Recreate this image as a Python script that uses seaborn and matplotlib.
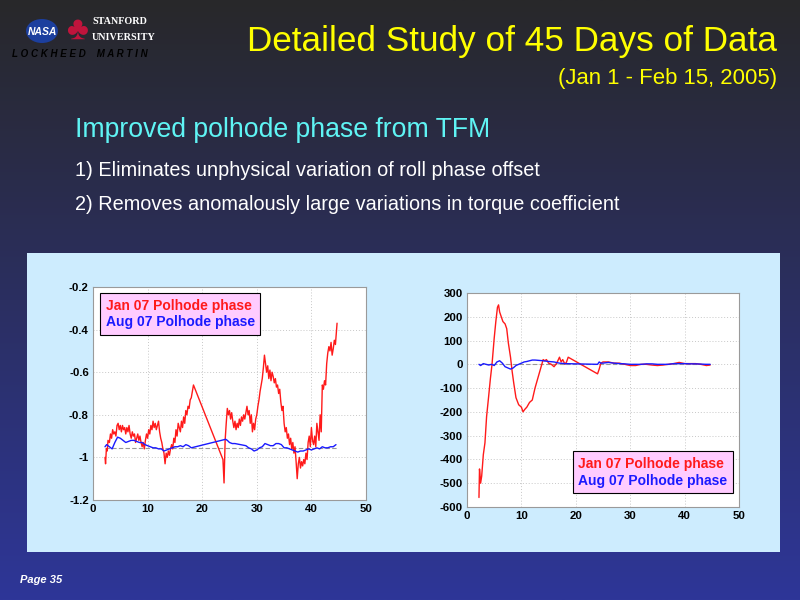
import numpy as np
import pandas as pd
import matplotlib
matplotlib.use("Agg")
import matplotlib.pyplot as plt
import seaborn as sns
from matplotlib.patches import Rectangle, Circle

# ---------------- data ----------------
left_jan_x = [2.2, 2.3, 2.45, 2.6, 2.75, 3.0, 3.2, 3.4, 3.6, 3.8, 4.0, 4.2, 4.4, 4.6, 4.8, 5.0, 5.2, 5.4, 5.6, 5.8,
              6.0, 6.2, 6.4, 6.6, 6.8, 7.0, 7.2, 7.4, 7.6, 7.8, 8.0, 8.2, 8.4, 8.6, 8.8, 9.0, 9.2, 9.4, 9.6, 9.8,
              10.0, 10.2, 10.4, 10.6, 10.8, 11.0, 11.2, 11.4, 11.6, 11.8, 12.0, 12.2, 12.4, 12.6, 12.8, 13.0, 13.2,
              13.4, 13.6, 13.8, 14.0, 14.2, 14.4, 14.6, 14.8, 15.0, 15.2, 15.4, 15.6, 15.8, 16.0, 16.2, 16.4, 16.6,
              16.8, 17.0, 17.2, 17.4, 17.6, 17.8, 18.0, 18.2, 18.4, 23.8, 24.0, 24.2, 24.4, 24.6, 24.8, 25.0, 25.2,
              25.4, 25.6, 25.8, 26.0, 26.2, 26.4, 26.6, 26.8, 27.0, 27.2, 27.4, 27.6, 27.8, 28.0, 28.2, 28.4, 28.6,
              28.8, 29.0, 29.2, 29.4, 29.6, 29.8, 30.0, 30.2, 30.4, 30.6, 30.8, 31.0, 31.2, 31.4, 31.6, 31.8, 32.0,
              32.2, 32.4, 32.6, 32.8, 33.0, 33.2, 33.4, 33.6, 33.8, 34.0, 34.2, 34.4, 34.6, 34.8, 35.0, 35.2, 35.4,
              35.6, 35.8, 36.0, 36.2, 36.4, 36.6, 36.8, 37.0, 37.2, 37.4, 37.6, 37.8, 38.0, 38.2, 38.4, 38.6, 38.8,
              39.0, 39.2, 39.4, 39.6, 39.8, 40.0, 40.2, 40.4, 40.6, 40.8, 41.0, 41.2, 41.4, 41.6, 41.8, 42.0, 42.2,
              42.4, 42.6, 42.8, 43.0, 43.2, 43.4, 43.6, 43.8, 44.0, 44.2, 44.4, 44.6, 44.7]
left_jan_y = [-1.00, -1.03, -0.96, -0.97, -0.92, -0.93, -0.89, -0.91, -0.87, -0.89, -0.88, -0.90, -0.85, -0.84, -0.87,
              -0.85, -0.88, -0.85, -0.87, -0.86, -0.89, -0.86, -0.88, -0.85, -0.89, -0.91, -0.88, -0.90, -0.89, -0.93,
              -0.91, -0.89, -0.92, -0.90, -0.93, -0.95, -0.93, -0.96, -0.92, -0.89, -0.91, -0.87, -0.89, -0.85, -0.87,
              -0.83, -0.86, -0.84, -0.87, -0.85, -0.83, -0.88, -0.91, -0.93, -0.96, -0.98, -1.03, -0.98, -1.00, -0.97,
              -0.99, -0.96, -0.94, -0.96, -0.91, -0.93, -0.87, -0.90, -0.84, -0.86, -0.88, -0.83, -0.86, -0.81, -0.84,
              -0.78, -0.80, -0.76, -0.77, -0.73, -0.72, -0.69, -0.66, -1.01, -1.12, -0.92, -0.84, -0.77, -0.80, -0.78,
              -0.82, -0.79, -0.83, -0.86, -0.83, -0.87, -0.84, -0.86, -0.82, -0.85, -0.81, -0.83, -0.80, -0.82, -0.79,
              -0.76, -0.80, -0.78, -0.84, -0.80, -0.88, -0.84, -0.87, -0.82, -0.80, -0.76, -0.73, -0.69, -0.66, -0.63,
              -0.58, -0.52, -0.56, -0.60, -0.57, -0.63, -0.59, -0.64, -0.60, -0.62, -0.65, -0.63, -0.67, -0.66, -0.70,
              -0.68, -0.74, -0.78, -0.76, -0.84, -0.88, -0.86, -0.91, -0.89, -0.94, -0.91, -0.96, -0.93, -0.98, -0.95,
              -1.02, -1.10, -1.03, -1.00, -1.05, -1.02, -1.04, -1.01, -1.03, -0.98, -1.01, -0.93, -0.90, -0.95, -0.86,
              -0.92, -0.94, -0.90, -0.95, -0.84, -0.88, -0.92, -0.80, -0.88, -0.66, -0.68, -0.64, -0.66, -0.56, -0.51,
              -0.48, -0.50, -0.46, -0.52, -0.49, -0.45, -0.47, -0.40, -0.37]

left_aug_x = [2.2, 2.5, 3.0, 3.5, 4.0, 4.5, 5.0, 5.5, 6.0, 6.5, 7.0, 7.5, 8.0, 8.5, 9.0, 9.5, 10.0, 10.5, 11.0, 11.5,
              12.0, 12.5, 13.0, 13.5, 14.0, 14.5, 15.0, 15.5, 16.0, 16.5, 17.0, 17.5, 18.0, 24.3, 24.6, 25.0, 25.5,
              26.0, 27.0, 28.0, 28.5, 29.0, 29.5, 30.0, 30.5, 31.0, 31.5, 32.0, 32.5, 33.0, 33.5, 34.0, 34.5, 35.0,
              35.5, 36.0, 36.5, 37.0, 37.5, 38.0, 38.5, 39.0, 39.5, 40.0, 40.5, 41.0, 41.5, 42.0, 42.5, 43.0, 43.5,
              44.0, 44.5]
left_aug_y = [-0.95, -0.94, -0.95, -0.96, -0.93, -0.905, -0.91, -0.92, -0.93, -0.925, -0.92, -0.92, -0.925, -0.93,
              -0.93, -0.94, -0.945, -0.95, -0.955, -0.955, -0.96, -0.96, -0.97, -0.965, -0.96, -0.955, -0.95, -0.95,
              -0.945, -0.95, -0.94, -0.945, -0.955, -0.915, -0.92, -0.93, -0.935, -0.935, -0.94, -0.945, -0.955,
              -0.96, -0.97, -0.965, -0.955, -0.95, -0.935, -0.94, -0.945, -0.945, -0.935, -0.935, -0.94, -0.955,
              -0.955, -0.96, -0.965, -0.97, -0.975, -0.97, -0.97, -0.965, -0.96, -0.965, -0.96, -0.955, -0.96, -0.95,
              -0.955, -0.955, -0.95, -0.95, -0.94]
left_ref_y = -0.955

right_jan_x = [2.2, 2.3, 2.5, 2.7, 3.0, 3.3, 3.6, 4.0, 4.3, 4.6, 5.0, 5.3, 5.6, 5.8, 6.0, 6.3, 6.6, 7.0, 7.3, 7.6,
               8.0, 8.3, 8.6, 9.0, 9.5, 10.0, 10.3, 10.6, 11.0, 11.5, 12.0, 12.5, 13.0, 13.5, 14.0, 14.3, 14.6, 15.0,
               15.5, 16.0, 16.5, 17.0, 17.3, 17.6, 18.0, 18.3, 18.6, 24.0, 24.3, 24.6, 25.0, 26.0, 27.0, 28.0, 29.0,
               30.0, 31.0, 32.0, 33.0, 34.0, 35.0, 36.0, 37.0, 38.0, 39.0, 40.0, 41.0, 42.0, 43.0, 44.0, 44.7]
right_jan_y = [-560, -440, -500, -470, -380, -330, -220, -130, -60, 0, 110, 180, 240, 250, 220, 200, 180, 170, 150,
               90, 30, -30, -80, -140, -170, -180, -200, -190, -180, -160, -150, -100, -60, -20, 20, 15, 20, 5, 0,
               -10, 5, 30, 10, 20, 0, 10, 30, -40, -20, 5, 10, 10, 5, 5, 0, -5, -5, 0, 0, -3, -5, -3, 0, 3, 8, 3, 3,
               3, 0, -5, -3]

right_aug_x = [2.2, 2.5, 3.0, 3.5, 4.0, 4.5, 5.0, 5.5, 6.0, 6.5, 7.0, 7.5, 8.0, 8.5, 9.0, 9.5, 10.0, 10.5, 11.0,
               11.5, 12.0, 12.5, 13.0, 14.0, 15.0, 16.0, 17.0, 18.0, 24.0, 24.3, 24.6, 25.0, 26.0, 27.0, 28.0, 29.0,
               30.0, 31.0, 32.0, 33.0, 34.0, 35.0, 36.0, 37.0, 38.0, 39.0, 40.0, 41.0, 42.0, 43.0, 44.0, 44.7]
right_aug_y = [0, -5, 3, 0, -3, 0, -5, 10, 15, 5, -10, -15, -20, -15, -5, 0, 5, 10, 12, 15, 18, 18, 17, 15, 12, 10,
               5, 3, 0, 10, 5, 5, 8, 5, 3, 2, 0, 0, 0, 2, 2, 0, 0, 0, 3, 3, 3, 2, 2, 1, 0, 0]
right_ref_y = 0

series_labels = ["Jan 07 Polhode phase", "Aug 07 Polhode phase"]
x_ticks = [0, 10, 20, 30, 40, 50]
left_yticks = [-1.2, -1.0, -0.8, -0.6, -0.4, -0.2]
left_yticklabels = ["-1.2", "-1", "-0.8", "-0.6", "-0.4", "-0.2"]
right_yticks = [-600, -500, -400, -300, -200, -100, 0, 100, 200, 300]

title = "Detailed Study of 45 Days of Data"
subtitle = "(Jan 1 - Feb 15, 2005)"
heading = "Improved polhode phase from TFM"
bullets = ["1) Eliminates unphysical variation of roll phase offset",
           "2) Removes anomalously large variations in torque coefficient"]
page = "Page 35"

# ---------------- style ----------------
sns.set_style("white")
plt.rcParams['font.family'] = ['Liberation Sans', 'DejaVu Sans']

RED = "#ff1a1a"
BLUE = "#1a1aff"

fig = plt.figure(figsize=(8, 6), dpi=100)

# background gradient
bg = fig.add_axes([0, 0, 1, 1], zorder=-10)
top = np.array([40, 40, 42]) / 255
bot = np.array([46, 54, 152]) / 255
t = np.linspace(0, 1, 256)[:, None]
grad = (top[None, :] * (1 - t) + bot[None, :] * t)[:, None, :]
bg.imshow(grad, aspect='auto', extent=[0, 1, 0, 1], origin='upper')
bg.set_xlim(0, 1); bg.set_ylim(0, 1)
bg.axis('off')

# light blue panel
bg.add_patch(Rectangle((27 / 800, 1 - 552 / 600), (780 - 27) / 800, (552 - 253) / 600,
                       facecolor="#cdecfe", edgecolor='none', zorder=2))


def fy(py):
    return 1 - py / 600


# texts
fig.text(777 / 800, fy(51), title, color="#ffff00", fontsize=25.3, ha='right', va='baseline')
fig.text(777 / 800, fy(84), subtitle, color="#ffff00", fontsize=15.9, ha='right', va='baseline')
fig.text(75 / 800, fy(137), heading, color="#5ff4f4", fontsize=19.2, ha='left', va='baseline')
fig.text(75 / 800, fy(176), bullets[0], color="white", fontsize=14.3, ha='left', va='baseline')
fig.text(75 / 800, fy(210), bullets[1], color="white", fontsize=14.3, ha='left', va='baseline')
fig.text(20 / 800, fy(580), page, color="white", fontsize=8, ha='left', va='center',
         fontweight='bold', style='italic')

# logos (approximate)
bg.add_patch(Circle((42 / 800, fy(31)), 16 / 800, transform=bg.transAxes, facecolor="#1c3f9e",
                    edgecolor='none', zorder=3))
fig.text(43 / 800, fy(32), "NASA", color="white", fontsize=7.5, fontweight='bold', style='italic',
         ha='center', va='center', zorder=5)
fig.text(77 / 800, fy(30), "\u2663", color="#c0143c", fontsize=24, ha='center', va='center')
fig.text(92 / 800, fy(22), "STANFORD", color="white", fontsize=7.3, fontweight='bold',
         family=['Liberation Serif', 'DejaVu Serif'], ha='left', va='center')
fig.text(92 / 800, fy(37), "UNIVERSITY", color="white", fontsize=7.3, fontweight='bold',
         family=['Liberation Serif', 'DejaVu Serif'], ha='left', va='center')
fig.text(12 / 800, fy(54), "L O C K H E E D    M A R T I N", color="black", fontsize=7,
         fontweight='bold', style='italic', ha='left', va='center')


def make_panel(rect, xs, ys, ref, yticks, ylim, yticklabels, legend_anchor, legend_loc):
    ax = fig.add_axes(rect)
    ax.set_facecolor("white")
    sns.lineplot(x=xs[0], y=ys[0], ax=ax, color=RED, linewidth=1.0, sort=False,
                 label=series_labels[0], estimator=None)
    sns.lineplot(x=xs[1], y=ys[1], ax=ax, color=BLUE, linewidth=1.0, sort=False,
                 label=series_labels[1], estimator=None)
    ax.axhline(ref, xmin=2.2 / 50, xmax=44.7 / 50, color="#999999", linestyle=(0, (4, 2)),
               linewidth=0.8, zorder=1)
    ax.set_xlim(0, 50)
    ax.set_ylim(*ylim)
    ax.set_xticks(x_ticks)
    ax.set_yticks(yticks)
    ax.set_yticklabels(yticklabels)
    ax.grid(True, color="#c8c8c8", linestyle=(0, (1, 2)), linewidth=0.7)
    ax.set_axisbelow(True)
    for s in ax.spines.values():
        s.set_color("#9a9a9a")
        s.set_linewidth(0.8)
    ax.tick_params(axis='both', labelsize=8.2, length=0, pad=3, colors='black')
    for lab in ax.get_xticklabels() + ax.get_yticklabels():
        lab.set_fontweight('bold')
    ax.set_xlabel("")
    ax.set_ylabel("")
    leg = ax.legend(loc=legend_loc, bbox_to_anchor=legend_anchor, handlelength=0, handletextpad=0,
                    frameon=True, fancybox=False, facecolor="#ffccff", edgecolor="black",
                    framealpha=1, borderaxespad=0, labelcolor=[RED, BLUE],
                    prop={'weight': 'bold', 'size': 10}, borderpad=0.4, labelspacing=0.2)
    leg.get_frame().set_linewidth(0.8)
    for h in leg.legend_handles:
        h.set_visible(False)
    return ax


make_panel([93 / 800, fy(500), 273 / 800, 213 / 600],
           (left_jan_x, left_aug_x), (left_jan_y, left_aug_y), left_ref_y,
           left_yticks, (-1.2, -0.2), left_yticklabels, (0.026, 0.972), 'upper left')
make_panel([467 / 800, fy(507), 272 / 800, 214 / 600],
           (right_jan_x, right_aug_x), (right_jan_y, right_aug_y), right_ref_y,
           right_yticks, (-600, 300), [str(v) for v in right_yticks], (0.978, 0.065), 'lower right')

fig.savefig("out.png", dpi=100)
